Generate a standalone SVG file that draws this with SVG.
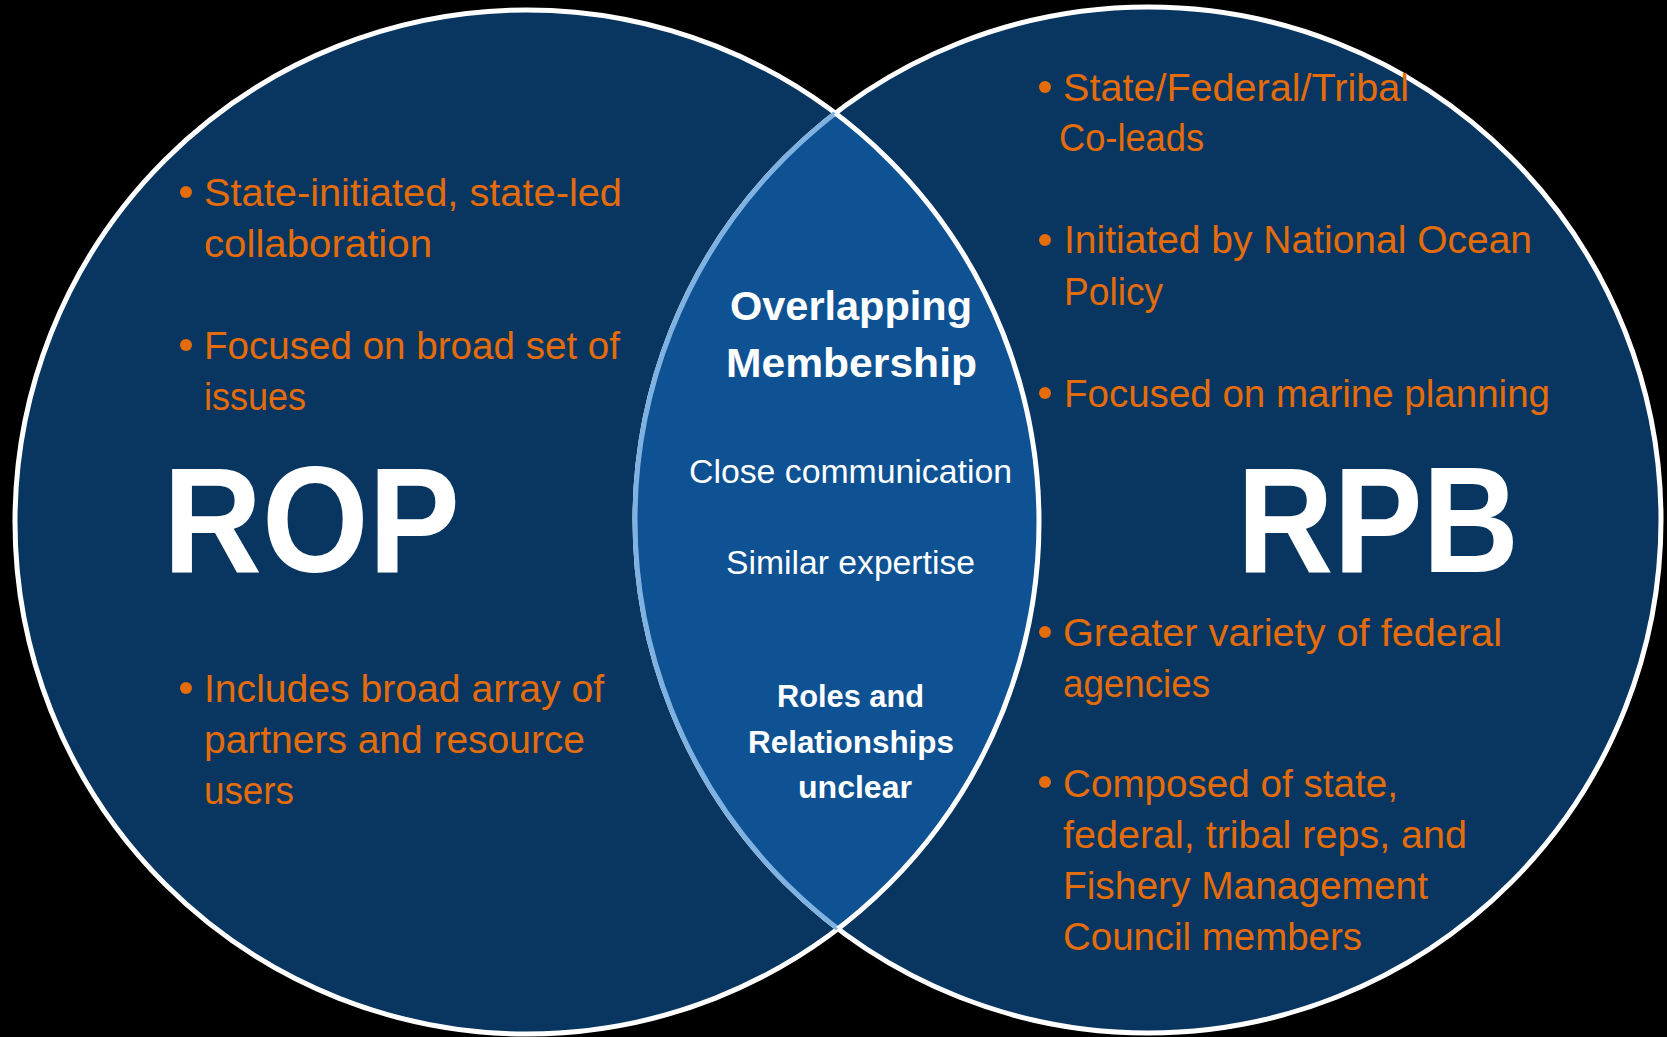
<svg xmlns="http://www.w3.org/2000/svg" width="1667" height="1037" viewBox="0 0 1667 1037">
<style>
.circ{fill:#083660;stroke:#ffffff;stroke-width:5}
.or{font-family:"Liberation Sans",Arial,sans-serif;font-size:38px;fill:#e46c0a}
.dot{fill:#e46c0a}
.big{font-family:"Liberation Sans",Arial,sans-serif;font-size:150px;font-weight:bold;fill:#ffffff}
.hd{font-family:"Liberation Sans",Arial,sans-serif;font-size:40px;font-weight:bold;fill:#ffffff}
.rg{font-family:"Liberation Sans",Arial,sans-serif;font-size:32.5px;fill:#ffffff}
.bd{font-family:"Liberation Sans",Arial,sans-serif;font-size:31px;font-weight:bold;fill:#ffffff}
</style>
<defs>
<clipPath id="clipL"><circle cx="527" cy="522" r="512"/></clipPath>
<clipPath id="clipR"><circle cx="1148" cy="520" r="513"/></clipPath>
</defs>
<rect x="0" y="0" width="1667" height="1037" fill="#000000"/>
<g id="rop">
<circle class="circ" cx="527" cy="522" r="512"/>
<circle class="dot" cx="186" cy="192" r="6"/>
<circle class="dot" cx="186" cy="345" r="6"/>
<circle class="dot" cx="186" cy="688" r="6"/>
<text class="or" x="204" y="206" textLength="418" lengthAdjust="spacingAndGlyphs">State-initiated, state-led</text>
<text class="or" x="204" y="257" textLength="228" lengthAdjust="spacingAndGlyphs">collaboration</text>
<text class="or" x="204" y="359" textLength="416" lengthAdjust="spacingAndGlyphs">Focused on broad set of</text>
<text class="or" x="204" y="410" textLength="102" lengthAdjust="spacingAndGlyphs">issues</text>
<text class="or" x="204" y="702" textLength="400" lengthAdjust="spacingAndGlyphs">Includes broad array of</text>
<text class="or" x="204" y="753" textLength="381" lengthAdjust="spacingAndGlyphs">partners and resource</text>
<text class="or" x="204" y="804" textLength="90" lengthAdjust="spacingAndGlyphs">users</text>
<text class="big" x="163" y="572" textLength="297" lengthAdjust="spacingAndGlyphs">ROP</text>
</g>
<g id="rpb">
<circle class="circ" cx="1148" cy="520" r="513"/>
<circle class="dot" cx="1045" cy="87" r="6"/>
<circle class="dot" cx="1045" cy="240" r="6"/>
<circle class="dot" cx="1045" cy="393" r="6"/>
<circle class="dot" cx="1045" cy="632" r="6"/>
<circle class="dot" cx="1045" cy="782" r="6"/>
<text class="or" x="1063" y="101" textLength="346" lengthAdjust="spacingAndGlyphs">State/Federal/Tribal</text>
<text class="or" x="1059" y="151" textLength="145" lengthAdjust="spacingAndGlyphs">Co-leads</text>
<text class="or" x="1064" y="253" textLength="468" lengthAdjust="spacingAndGlyphs">Initiated by National Ocean</text>
<text class="or" x="1064" y="305" textLength="99" lengthAdjust="spacingAndGlyphs">Policy</text>
<text class="or" x="1064" y="407" textLength="486" lengthAdjust="spacingAndGlyphs">Focused on marine planning</text>
<text class="or" x="1063" y="646" textLength="439" lengthAdjust="spacingAndGlyphs">Greater variety of federal</text>
<text class="or" x="1063" y="697" textLength="147" lengthAdjust="spacingAndGlyphs">agencies</text>
<text class="or" x="1063" y="797" textLength="335" lengthAdjust="spacingAndGlyphs">Composed of state,</text>
<text class="or" x="1063" y="848" textLength="404" lengthAdjust="spacingAndGlyphs">federal, tribal reps, and</text>
<text class="or" x="1063" y="899" textLength="365" lengthAdjust="spacingAndGlyphs">Fishery Management</text>
<text class="or" x="1063" y="950" textLength="299" lengthAdjust="spacingAndGlyphs">Council members</text>
<text class="big" x="1237" y="572" textLength="282" lengthAdjust="spacingAndGlyphs">RPB</text>
</g>
<g id="overlap">
<circle cx="1148" cy="520" r="513" fill="#0e5294" clip-path="url(#clipL)"/>
<circle cx="1148" cy="520" r="513" fill="none" stroke="#7fb2e1" stroke-width="5" clip-path="url(#clipL)"/>
<circle cx="527" cy="522" r="512" fill="none" stroke="#ffffff" stroke-width="5" clip-path="url(#clipR)"/>
<text class="hd" x="730" y="320" textLength="242" lengthAdjust="spacingAndGlyphs">Overlapping</text>
<text class="hd" x="726" y="377" textLength="251" lengthAdjust="spacingAndGlyphs">Membership</text>
<text class="rg" x="689" y="483" textLength="323" lengthAdjust="spacingAndGlyphs">Close communication</text>
<text class="rg" x="726" y="574" textLength="249" lengthAdjust="spacingAndGlyphs">Similar expertise</text>
<text class="bd" x="777" y="707" textLength="147" lengthAdjust="spacingAndGlyphs">Roles and</text>
<text class="bd" x="748" y="753" textLength="206" lengthAdjust="spacingAndGlyphs">Relationships</text>
<text class="bd" x="798" y="798" textLength="114" lengthAdjust="spacingAndGlyphs">unclear</text>
</g>
</svg>
